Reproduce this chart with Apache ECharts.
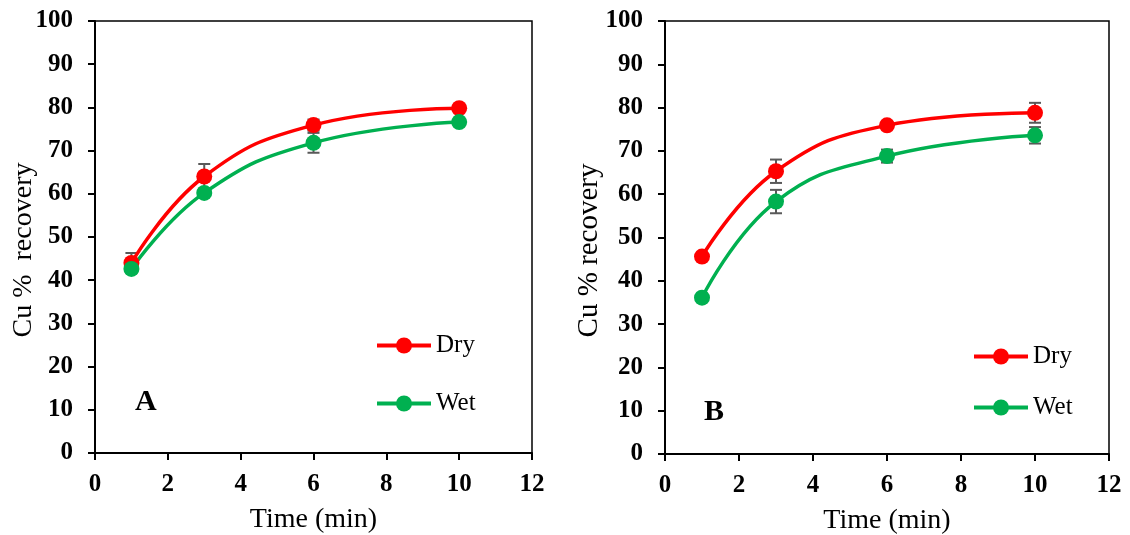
<!DOCTYPE html>
<html>
<head>
<meta charset="utf-8">
<script src="https://cdn.jsdelivr.net/npm/echarts@6/dist/echarts.min.js"></script>
<style>
  html, body { margin: 0; padding: 0; background: #fff; }
  #chart { width: 1130px; height: 535px; }
</style>
</head>
<body>
<div id="chart"></div>
<script>
// time points (min)
const times = [1, 3, 6, 10]

// panel A
const dryA = [44.0, 64.0, 75.9, 79.8]
const wetA = [42.6, 60.2, 71.8, 76.6]
const dryErrA = [2.3, 2.9, 1.3, 0.5]
const wetErrA = [0.5, 0.6, 2.3, 0.5]

// panel B
const dryB = [45.6, 65.3, 75.9, 78.8]
const wetB = [36.1, 58.3, 68.8, 73.6]
const dryErrB = [0.5, 2.7, 0.5, 2.3]
const wetErrB = [0.5, 2.7, 1.5, 1.9]

const xTicks = { min: 0, max: 12, interval: 2 }
const yTicks = { min: 0, max: 100, interval: 10 }

const font = 'Liberation Serif'
const red = '#ff0000'
const green = '#00b050'
const errColor = '#595959'

const pairs = (ys) => times.map((t, i) => [t, ys[i]])
const errData = (ys, es) => times.map((t, i) => [t, ys[i], es[i]])

// error bars drawn under the markers
const errSeries = (name, idx, ys, es) => ({
    name: name,
    type: 'custom',
    xAxisIndex: idx,
    yAxisIndex: idx,
    z: 1,
    silent: true,
    data: errData(ys, es),
    renderItem: (params, api) => {
        const x = api.value(0)
        const y = api.value(1)
        const e = api.value(2)
        const top = api.coord([x, y + e])
        const bot = api.coord([x, y - e])
        const w = 6
        const style = { stroke: errColor, lineWidth: 2 }
        return {
            type: 'group',
            children: [
                { type: 'line', shape: { x1: top[0], y1: top[1], x2: bot[0], y2: bot[1] }, style },
                { type: 'line', shape: { x1: top[0] - w, y1: top[1], x2: top[0] + w, y2: top[1] }, style },
                { type: 'line', shape: { x1: bot[0] - w, y1: bot[1], x2: bot[0] + w, y2: bot[1] }, style }
            ]
        }
    }
})

const lineSeries = (name, idx, ys, color) => ({
    name: name,
    type: 'line',
    xAxisIndex: idx,
    yAxisIndex: idx,
    z: 3,
    smooth: 0.45,
    symbol: 'circle',
    symbolSize: 16,
    data: pairs(ys),
    lineStyle: { color: color, width: 3.5 },
    itemStyle: { color: color }
})

const xAxis = (idx) => ({
    type: 'value',
    gridIndex: idx,
    min: xTicks.min,
    max: xTicks.max,
    interval: xTicks.interval,
    name: 'Time (min)',
    nameLocation: 'middle',
    nameGap: 53,
    nameTextStyle: { fontFamily: font, fontSize: 28, color: '#000' },
    axisLine: { show: true, onZero: false, lineStyle: { color: '#000', width: 2 } },
    axisTick: { show: true, inside: false, length: 7, lineStyle: { color: '#000', width: 2 } },
    axisLabel: { fontFamily: font, fontSize: 25, fontWeight: 'bold', color: '#000', margin: 19 },
    splitLine: { show: false }
})

const yAxis = (idx, name, nameGap, size) => ({
    type: 'value',
    gridIndex: idx,
    min: yTicks.min,
    max: yTicks.max,
    interval: yTicks.interval,
    name: name,
    nameLocation: 'middle',
    nameGap: nameGap,
    nameMoveOverlap: false,
    nameTextStyle: { fontFamily: font, fontSize: size, color: '#000', padding: [0, 26, 0, 0] },
    axisLine: { show: true, onZero: false, lineStyle: { color: '#000', width: 2 } },
    axisTick: { show: true, inside: false, length: 7, lineStyle: { color: '#000', width: 2 } },
    axisLabel: { fontFamily: font, fontSize: 25, fontWeight: 'bold', color: '#000', margin: 22 },
    splitLine: { show: false }
})

const legendBox = (left, top, gap) => ({
    orient: 'vertical',
    left: left,
    top: top,
    padding: 0,
    itemWidth: 54,
    itemHeight: 20,
    itemGap: gap,
    lineStyle: { width: 4 },
    data: ['Dry', 'Wet'],
    textStyle: { fontFamily: font, fontSize: 25, color: '#000' }
})

const gridBox = (left, width, height) => ({
    left: left,
    top: 21,
    width: width,
    height: height,
    outerBoundsMode: 'none',
    show: true,
    borderColor: '#000',
    borderWidth: 1.5,
    backgroundColor: 'transparent'
})

const chart = echarts.init(document.getElementById('chart'), null, { renderer: 'canvas' })
chart.setOption({
    animation: false,
    backgroundColor: '#fff',
    grid: [gridBox(95, 437, 432), gridBox(665, 444, 433)],
    xAxis: [xAxis(0), xAxis(1)],
    yAxis: [yAxis(0, 'Cu %  recovery', 57, 28), yAxis(1, 'Cu % recovery', 61, 29)],
    legend: [legendBox(375, 333, 33), legendBox(972, 344, 26)],
    graphic: [
        { type: 'text', left: 135, top: 387, style: { text: 'A', fontFamily: font, fontSize: 30, fontWeight: 'bold', fill: '#000' } },
        { type: 'text', left: 704, top: 397, style: { text: 'B', fontFamily: font, fontSize: 30, fontWeight: 'bold', fill: '#000' } }
    ],
    series: [
        errSeries('errDryA', 0, dryA, dryErrA),
        errSeries('errWetA', 0, wetA, wetErrA),
        lineSeries('Dry', 0, dryA, red),
        lineSeries('Wet', 0, wetA, green),
        errSeries('errDryB', 1, dryB, dryErrB),
        errSeries('errWetB', 1, wetB, wetErrB),
        lineSeries('Dry', 1, dryB, red),
        lineSeries('Wet', 1, wetB, green)
    ]
})
</script>
</body>
</html>
